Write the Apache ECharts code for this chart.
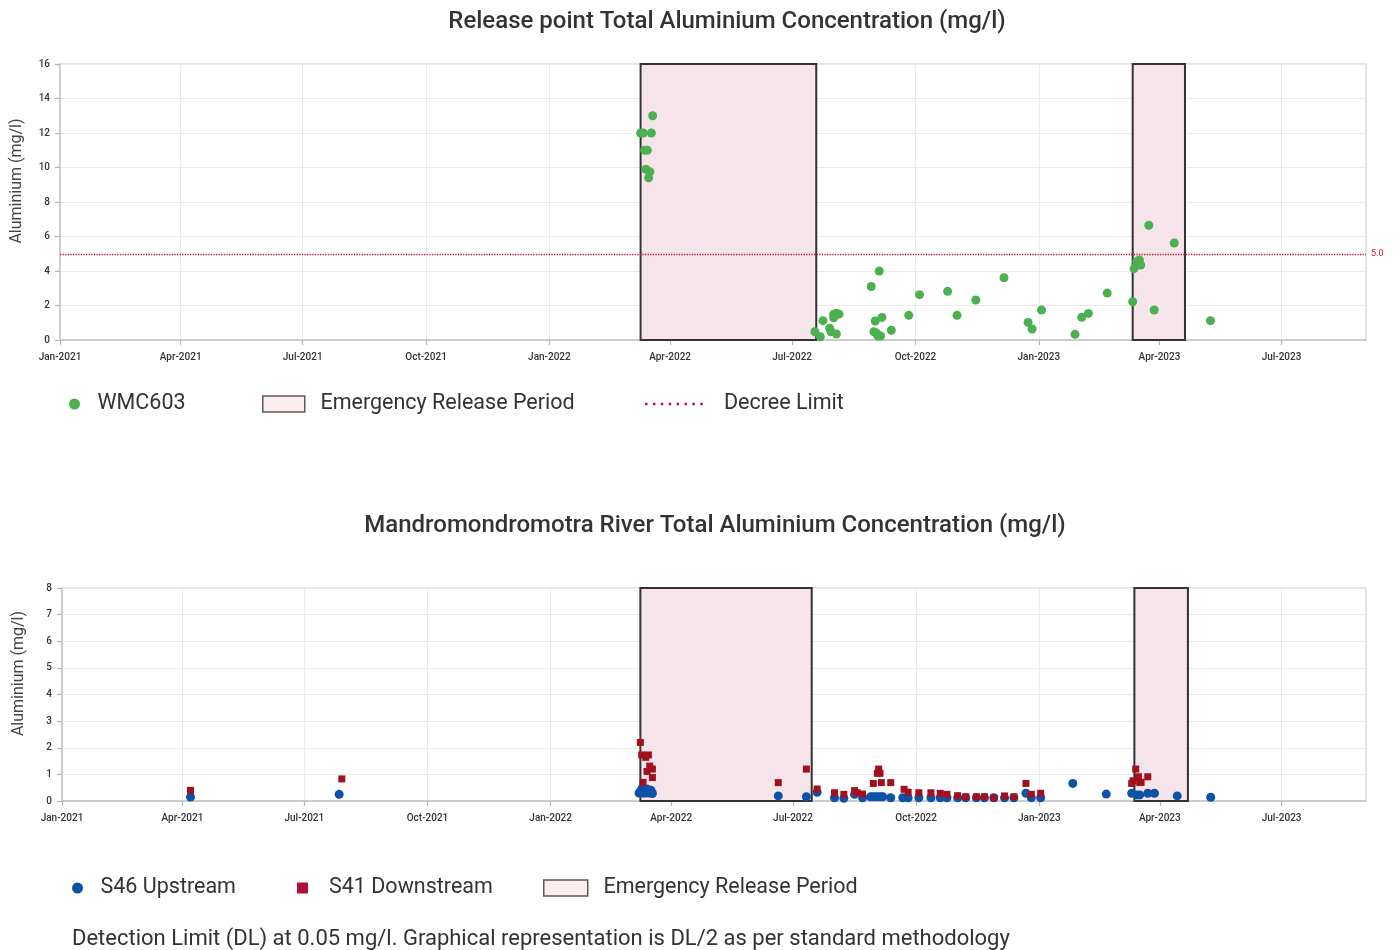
<!DOCTYPE html>
<html><head><meta charset="utf-8">
<script src="https://cdn.jsdelivr.net/npm/echarts@6/dist/echarts.min.js"></script>
<style>html,body{margin:0;padding:0;background:#fff}#chart{width:1400px;height:950px}</style>
</head><body><div id="chart"></div>
<script>
// ---------- DATA ----------
const tickLabels = ['Jan-2021','Apr-2021','Jul-2021','Oct-2021','Jan-2022','Apr-2022','Jul-2022','Oct-2022','Jan-2023','Apr-2023','Jul-2023'];
const axisRange = ['2021-01-01', '2023-09-02'];
const decreeLimit = 5;

const wmc603 = [
  ['2022-03-10',12.0],['2022-03-12',12.0],['2022-03-13',11.0],['2022-03-14',9.9],['2022-03-15',11.0],
  ['2022-03-16',9.4],['2022-03-17',9.75],['2022-03-18',12.0],['2022-03-19',13.0],
  ['2022-07-18',0.48],['2022-07-22',0.19],['2022-07-24',1.12],['2022-07-29',0.68],['2022-07-30',0.48],
  ['2022-08-01',1.5],['2022-08-01',1.29],['2022-08-03',1.55],['2022-08-03',0.35],['2022-08-05',1.5],
  ['2022-08-29',3.1],['2022-08-31',0.48],['2022-09-01',1.1],['2022-09-02',0.39],['2022-09-03',0.23],
  ['2022-09-04',4.0],['2022-09-05',0.23],['2022-09-06',1.31],['2022-09-13',0.56],['2022-09-26',1.43],
  ['2022-10-04',2.63],['2022-10-25',2.82],['2022-11-01',1.43],['2022-11-15',2.32],['2022-12-06',3.61],
  ['2022-12-24',1.02],['2022-12-27',0.64],['2023-01-03',1.74],['2023-01-28',0.33],['2023-02-02',1.32],
  ['2023-02-07',1.54],['2023-02-21',2.72],['2023-03-12',2.22],['2023-03-13',4.14],['2023-03-15',4.54],
  ['2023-03-16',4.44],['2023-03-17',4.64],['2023-03-18',4.35],['2023-03-24',6.65],['2023-03-28',1.74],
  ['2023-04-12',5.62],['2023-05-09',1.12]
];

const s46Upstream = [
  ['2021-04-07',0.15],['2021-07-27',0.25],
  ['2022-03-08',0.3],['2022-03-09',0.35],['2022-03-10',0.45],['2022-03-11',0.3],['2022-03-12',0.42],
  ['2022-03-13',0.3],['2022-03-14',0.45],['2022-03-15',0.35],['2022-03-16',0.3],['2022-03-17',0.4],['2022-03-18',0.28],
  ['2022-06-20',0.19],['2022-07-11',0.16],['2022-07-19',0.33],['2022-08-01',0.12],['2022-08-08',0.1],
  ['2022-08-16',0.25],['2022-08-22',0.12],['2022-08-28',0.16],['2022-08-30',0.16],['2022-09-01',0.16],
  ['2022-09-03',0.16],['2022-09-05',0.16],['2022-09-06',0.16],['2022-09-12',0.12],['2022-09-21',0.12],
  ['2022-09-25',0.12],['2022-10-03',0.12],['2022-10-12',0.12],['2022-10-19',0.12],['2022-10-24',0.12],
  ['2022-11-01',0.12],['2022-11-07',0.12],['2022-11-15',0.12],['2022-11-21',0.12],['2022-11-28',0.12],
  ['2022-12-06',0.12],['2022-12-13',0.12],['2022-12-22',0.29],['2022-12-26',0.12],['2023-01-02',0.12],
  ['2023-01-26',0.66],['2023-02-20',0.26],['2023-03-11',0.29],['2023-03-15',0.23],['2023-03-17',0.23],
  ['2023-03-23',0.29],['2023-03-28',0.29],['2023-04-14',0.19],['2023-05-09',0.14]
];

const s41Downstream = [
  ['2021-04-07',0.40],['2021-07-29',0.83],
  ['2022-03-09',2.20],['2022-03-10',1.73],['2022-03-11',0.70],['2022-03-13',1.64],['2022-03-14',1.11],
  ['2022-03-15',1.73],['2022-03-16',1.31],['2022-03-18',1.2],['2022-03-18',0.88],
  ['2022-06-20',0.69],['2022-07-11',1.2],['2022-07-19',0.45],['2022-08-01',0.31],['2022-08-08',0.25],
  ['2022-08-16',0.39],['2022-08-18',0.31],['2022-08-22',0.26],['2022-08-30',0.66],['2022-09-02',1.04],
  ['2022-09-03',1.20],['2022-09-04',1.04],['2022-09-05',0.69],['2022-09-12',0.69],['2022-09-22',0.44],
  ['2022-09-25',0.33],['2022-10-03',0.31],['2022-10-12',0.31],['2022-10-19',0.29],['2022-10-24',0.25],
  ['2022-11-01',0.2],['2022-11-07',0.16],['2022-11-15',0.16],['2022-11-21',0.16],['2022-11-28',0.12],
  ['2022-12-06',0.19],['2022-12-13',0.16],['2022-12-22',0.66],['2022-12-26',0.25],['2023-01-02',0.29],
  ['2023-03-11',0.66],['2023-03-12',0.76],['2023-03-14',1.20],['2023-03-16',0.91],['2023-03-17',0.70],
  ['2023-03-18',0.70],['2023-03-23',0.91]
];

const releaseTop = [['2022-03-10','2022-07-19'],['2023-03-12','2023-04-20']];
const releaseBottom = [['2022-03-09','2022-07-15'],['2023-03-13','2023-04-22']];

// ---------- BUILD ----------
const MONTHS = ['Jan','Feb','Mar','Apr','May','Jun','Jul','Aug','Sep','Oct','Nov','Dec'];
function ts(s){ const p = s.split('-').map(Number); return new Date(p[0], p[1]-1, p[2]).getTime(); }
const tickValues = tickLabels.map(l => { const [m,y] = l.split('-'); return new Date(+y, MONTHS.indexOf(m), 1).getTime(); });
function fmt(v){ const i = tickValues.indexOf(v); if (i >= 0) return tickLabels[i]; const d = new Date(v); return MONTHS[d.getMonth()] + '-' + d.getFullYear(); }
const pts = arr => arr.map(d => [ts(d[0]), d[1]]);
const FONT = 'Roboto';
const gridLine = '#ebebeb';

function xAxisOpt(gi){
  return {
    type:'value', gridIndex:gi, min:ts(axisRange[0]), max:ts(axisRange[1]), scale:true,
    axisLine:{show:true, onZero:false, lineStyle:{color:'#c4c4c4', width:1.5}},
    axisTick:{show:true, customValues:tickValues, length:5, lineStyle:{color:'#b5b5b5', width:1.2}},
    axisLabel:{customValues:tickValues, formatter:fmt, fontSize:10, color:'#333', margin:12, fontFamily:FONT, fontWeight:500},
    splitLine:{show:true, lineStyle:{color:gridLine}}
  };
}
function yAxisOpt(gi, max, interval){
  return {
    type:'value', gridIndex:gi, min:0, max:max, interval:interval,
    name:'Aluminium (mg/l)', nameLocation:'middle', nameGap:35,
    nameTextStyle:{fontSize:16, color:'#444', fontFamily:FONT, padding:[0,0,0,42]},
    axisLine:{show:true, lineStyle:{color:'#c4c4c4', width:1.5}},
    axisTick:{show:true, length:5, lineStyle:{color:'#b5b5b5', width:1.2}},
    axisLabel:{fontSize:10, color:'#333', margin:10, fontFamily:FONT, fontWeight:500},
    splitLine:{show:true, lineStyle:{color:gridLine}}
  };
}
const areaStyle = {color:'#f5e4e9', borderColor:'#333', borderWidth:2};
const legendText = {fontSize:21.5, color:'#333', fontFamily:FONT};
const dotPath = 'path://' + Array.from({length:8}, (_, i) => `M${(i*7.9).toFixed(1)} 0h2.5v2.5h-2.5z`).join(' ');

const option = {
  animation:false,
  backgroundColor:'#fff',
  textStyle:{fontFamily:FONT},
  title:[
    {text:'Release point Total Aluminium Concentration (mg/l)', left:722, textAlign:'center', top:5,
     textStyle:{fontSize:24, fontWeight:500, color:'#333', fontFamily:FONT}},
    {text:'Mandromondromotra River Total Aluminium Concentration (mg/l)', left:710, textAlign:'center', top:509,
     textStyle:{fontSize:24, fontWeight:500, color:'#333', fontFamily:FONT}},
    {text:'Detection Limit (DL) at 0.05 mg/l. Graphical representation is DL/2 as per standard methodology', left:67, top:923,
     textStyle:{fontSize:22, fontWeight:400, color:'#333', fontFamily:FONT}}
  ],
  grid:[
    {left:60, right:34, top:64, height:276, show:true, borderColor:'#dcdcdc', borderWidth:1.5},
    {left:62, right:34, top:588, height:213, show:true, borderColor:'#dcdcdc', borderWidth:1.5}
  ],
  xAxis:[xAxisOpt(0), xAxisOpt(1)],
  yAxis:[yAxisOpt(0,16,2), yAxisOpt(1,8,1)],
  legend:[
    {data:[{name:'WMC603', icon:'circle'}], left:64, top:388, itemWidth:36, itemHeight:11, selectedMode:false, textStyle:legendText},
    {data:[{name:'Emergency Release Period', icon:'rect', itemStyle:{color:'#fbe8eb', borderColor:'#333', borderWidth:1.5}}],
     left:257, top:388, itemWidth:42, itemHeight:16, selectedMode:false, formatter:n=>'  '+n, textStyle:legendText},
    {data:[{name:'Decree Limit', icon:dotPath, itemStyle:{color:'#c8102e'}}],
     left:640, top:388, itemWidth:58, itemHeight:2.5, selectedMode:false, formatter:n=>'   '+n, textStyle:legendText},
    {data:[{name:'S46 Upstream', icon:'circle'}], left:67, top:872, itemWidth:36, itemHeight:11, selectedMode:false, textStyle:legendText},
    {data:[{name:'S41 Downstream', icon:'rect', itemStyle:{color:'#b0103a'}}],
     left:292, top:872, itemWidth:11, itemHeight:11, selectedMode:false, formatter:n=>'   '+n, textStyle:legendText},
    {data:[{name:'Emergency Release Period', icon:'rect', itemStyle:{color:'#fbe8eb', borderColor:'#333', borderWidth:1.5}}],
     left:538, top:872, itemWidth:44, itemHeight:16, selectedMode:false, formatter:n=>'  '+n, textStyle:legendText}
  ],
  series:[
    {type:'scatter', name:'Emergency Release Period', xAxisIndex:0, yAxisIndex:0, data:[], z:1,
     itemStyle:{color:'#fbe8eb'},
     markArea:{silent:true, itemStyle:areaStyle, data:releaseTop.map(p=>[{xAxis:ts(p[0])},{xAxis:ts(p[1])}])}},
    {type:'line', name:'Decree Limit', xAxisIndex:0, yAxisIndex:0, data:[], z:2,
     itemStyle:{color:'#c8102e'},
     markLine:{silent:true, symbol:'none',
       lineStyle:{type:'dotted', color:'#d0142c', width:1.3},
       label:{show:true, position:'end', formatter:'5.0', color:'#d0142c', fontSize:9, fontFamily:FONT},
       data:[{yAxis:decreeLimit}]}},
    {type:'scatter', name:'WMC603', xAxisIndex:0, yAxisIndex:0, z:3, symbol:'circle', symbolSize:9,
     itemStyle:{color:'#4caf50', opacity:1}, data:pts(wmc603)},

    {type:'scatter', name:'Emergency Release Period', xAxisIndex:1, yAxisIndex:1, data:[], z:1,
     itemStyle:{color:'#fbe8eb'},
     markArea:{silent:true, itemStyle:areaStyle, data:releaseBottom.map(p=>[{xAxis:ts(p[0])},{xAxis:ts(p[1])}])}},
    {type:'scatter', name:'S46 Upstream', xAxisIndex:1, yAxisIndex:1, z:3, symbol:'circle', symbolSize:9,
     itemStyle:{color:'#0b52a8', opacity:1}, data:pts(s46Upstream)},
    {type:'scatter', name:'S41 Downstream', xAxisIndex:1, yAxisIndex:1, z:4, symbol:'rect', symbolSize:7,
     itemStyle:{color:'#a3101d', opacity:1}, data:pts(s41Downstream)}
  ]
};
const chart = echarts.init(document.getElementById('chart'), null, {renderer:'canvas'});
chart.setOption(option);
</script>
</body></html>
